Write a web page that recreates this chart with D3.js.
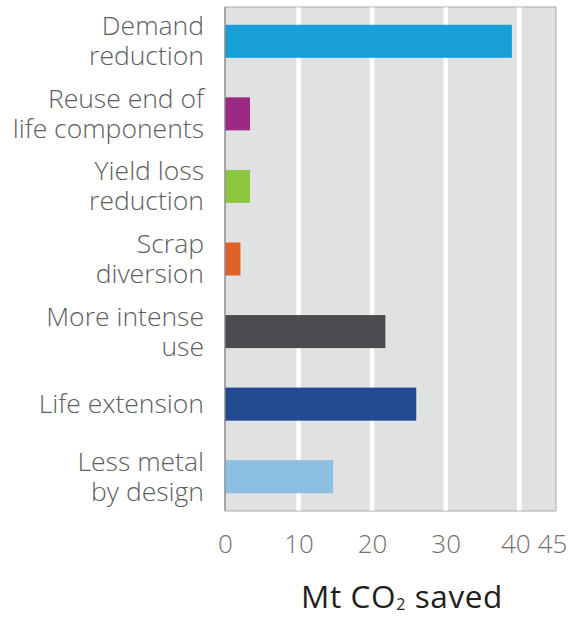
<!DOCTYPE html>
<html>
<head>
<meta charset="utf-8">
<script src="https://cdn.jsdelivr.net/npm/d3@7"></script>
<style>
  html, body { margin: 0; padding: 0; background: #fff; }
  svg { display: block; }
  text { font-family: "Open Sans", "Noto Sans", sans-serif; }
</style>
</head>
<body>
<div id="chart"></div>
<script>
// Emission savings by strategy (Mt CO2)
const categories = [
  ["Demand", "reduction"],
  ["Reuse end of", "life components"],
  ["Yield loss", "reduction"],
  ["Scrap", "diversion"],
  ["More intense", "use"],
  ["Life extension"],
  ["Less metal", "by design"]
];
const values = [39.0, 3.4, 3.4, 2.1, 21.8, 26.0, 14.7];
const colors = ["#199fd8", "#9b2a85", "#8cc63f", "#e0622b", "#4b4c50", "#234a91", "#8dbfe2"];
const tickValues = [0, 10, 20, 30, 40, 45];
const gridValues = [10, 20, 30, 40];
const axisTitle = "Mt CO";
const axisTitleSub = "2";
const axisTitleEnd = " saved";

const W = 573, H = 617;
const plot = { left: 225, right: 556, top: 7, bottom: 511 };

const svg = d3.select("#chart").append("svg")
  .attr("width", W).attr("height", H);

const x = d3.scaleLinear().domain([0, 45]).range([plot.left, plot.right]);
const y = d3.scaleBand()
  .domain(d3.range(categories.length))
  .range([plot.top - 2, plot.bottom + 2])
  .paddingInner(0.545)
  .paddingOuter(0.2725);

// Plot background
svg.append("rect")
  .attr("x", x(0)).attr("y", plot.top)
  .attr("width", x(45) - x(0)).attr("height", plot.bottom - plot.top)
  .attr("fill", "#e0e1e1")
  .attr("stroke", "#a9aaab").attr("stroke-width", 1);

// White vertical gridlines
svg.append("g").selectAll("line")
  .data(gridValues).join("line")
  .attr("x1", d => x(d)).attr("x2", d => x(d))
  .attr("y1", plot.top + 0.5).attr("y2", plot.bottom - 0.5)
  .attr("stroke", "#fff").attr("stroke-width", 4.5);

// Bars
svg.append("g").selectAll("rect")
  .data(values).join("rect")
  .attr("x", x(0))
  .attr("y", (d, i) => y(i))
  .attr("width", d => x(d) - x(0))
  .attr("height", y.bandwidth())
  .attr("fill", (d, i) => colors[i]);

// Left axis line
svg.append("line")
  .attr("x1", x(0)).attr("x2", x(0))
  .attr("y1", plot.top).attr("y2", plot.bottom)
  .attr("stroke", "#8a8b8c").attr("stroke-width", 1.2);

// Category labels
const lineH = 30;
const labels = svg.append("g").selectAll("text")
  .data(categories).join("text")
  .attr("text-anchor", "end")
  .attr("fill", "#5d5e60")
  .attr("font-size", 26.5)
  .attr("font-weight", 300)
  .attr("y", (d, i) => y(i) + y.bandwidth() / 2);
labels.selectAll("tspan")
  .data(d => d.map((t, k) => ({ t, k, n: d.length })))
  .join("tspan")
  .attr("x", 204)
  .attr("dy", (d) => d.k === 0 ? ((-(d.n - 1) / 2) * lineH + 9) : lineH)
  .text(d => d.t);

// X axis tick labels (the two rightmost sit slightly left of their ticks)
const tickShift = { 40: -4, 45: -4 };
const xAxis = d3.axisBottom(x).tickValues(tickValues).tickSize(0).tickPadding(0);
const gx = svg.append("g").attr("transform", `translate(0, ${plot.bottom})`).call(xAxis);
gx.select(".domain").remove();
gx.selectAll("text")
  .attr("x", d => tickShift[d] || 0)
  .attr("y", 0).attr("dy", 42)
  .attr("font-size", 26)
  .attr("font-weight", 300)
  .attr("fill", "#707173")
  .attr("font-family", "\"Open Sans\", sans-serif");

// Axis title
const title = svg.append("text")
  .attr("x", 402)
  .attr("y", 608)
  .attr("text-anchor", "middle")
  .attr("font-size", 31.5)
  .attr("letter-spacing", 0.6)
  .attr("fill", "#231f20");
title.append("tspan").text(axisTitle);
title.append("tspan").attr("font-size", 16).attr("dy", 2).text(axisTitleSub);
title.append("tspan").attr("dy", -2).text(axisTitleEnd);
</script>
</body>
</html>
